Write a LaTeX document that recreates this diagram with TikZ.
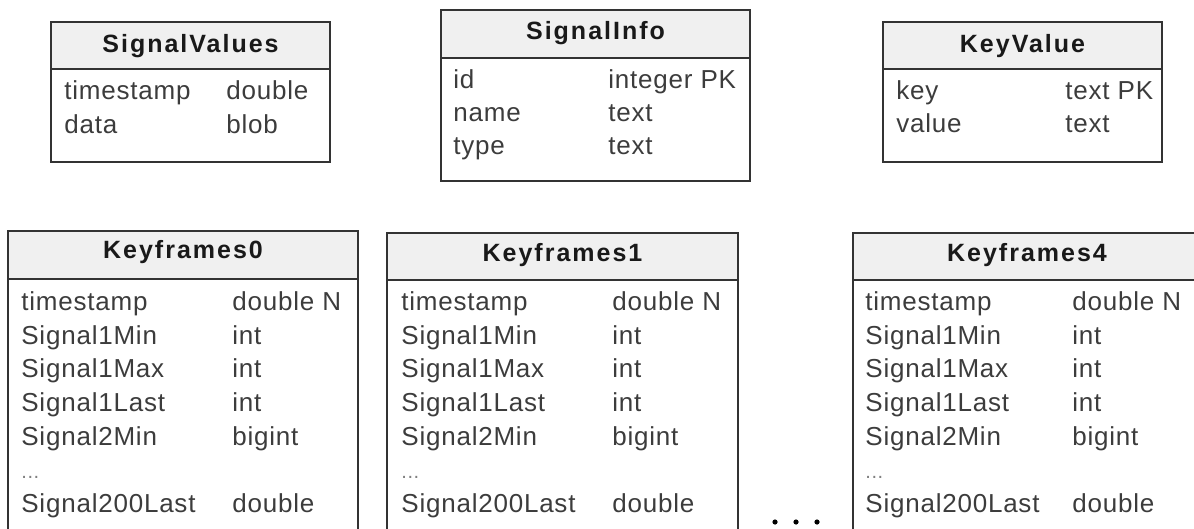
\documentclass[tikz,border=0pt]{standalone}
\usepackage{fontspec}
\usepackage{tikz}
\newfontfamily\tblfont[LetterSpace=3]{Liberation Sans}
\newfontfamily\hdrfont[LetterSpace=8]{Liberation Sans}
\newcommand\rowdots{{\color{gray}\fontsize{10pt}{12pt}\selectfont...}}
\definecolor{framegray}{HTML}{333333}
\definecolor{headgray}{HTML}{F0F0F0}
\definecolor{rowtext}{HTML}{3C3C3C}
\tikzset{
  tblframe/.style={draw=framegray, line width=1pt},
  tblhead/.style={font=\hdrfont\bfseries\fontsize{12.5pt}{14pt}\selectfont, text=black!90, anchor=base, inner sep=0pt},
  tblrow/.style={font=\tblfont\fontsize{13pt}{15pt}\selectfont, text=rowtext, anchor=base west, inner sep=0pt},
}

\begin{document}
\begin{tikzpicture}[x=0.5pt, y=-0.5pt]
  \useasboundingbox (0,0) rectangle (1194,529);
  \clip (0,0) rectangle (1194,529);

  % SignalValues
  \filldraw[tblframe, fill=headgray] (51,22) rectangle (330,69);
  \draw[tblframe] (51,69) rectangle (330,162);
  \node[tblhead] (sv-head) at (190.5,53) {SignalValues};
  \node[tblrow] (sv-name-1) at (64,100) {timestamp};
  \node[tblrow] (sv-type-1) at (226,100) {double};
  \node[tblrow] (sv-name-2) at (64,134) {data};
  \node[tblrow] (sv-type-2) at (226,134) {blob};

  % SignalInfo
  \filldraw[tblframe, fill=headgray] (441,10) rectangle (750,58);
  \draw[tblframe] (441,58) rectangle (750,181);
  \node[tblhead] (si-head) at (595.5,40) {SignalInfo};
  \node[tblrow] (si-name-1) at (453,89) {id};
  \node[tblrow] (si-type-1) at (608,89) {integer PK};
  \node[tblrow] (si-name-2) at (453,122) {name};
  \node[tblrow] (si-type-2) at (608,122) {text};
  \node[tblrow] (si-name-3) at (453,155) {type};
  \node[tblrow] (si-type-3) at (608,155) {text};

  % KeyValue
  \filldraw[tblframe, fill=headgray] (883,22) rectangle (1162,69);
  \draw[tblframe] (883,69) rectangle (1162,162);
  \node[tblhead] (kv-head) at (1022.5,53) {KeyValue};
  \node[tblrow] (kv-name-1) at (896,100) {key};
  \node[tblrow] (kv-type-1) at (1065,100) {text PK};
  \node[tblrow] (kv-name-2) at (896,133) {value};
  \node[tblrow] (kv-type-2) at (1065,133) {text};

  % Keyframes tables (cut off by the picture edge)
  \foreach \tbl/\lx/\rx/\tpy/\hb/\hy/\cx/\tx in
      {0/8/358/231/279/259/21/232, 1/387/738/233/280/262/401/612, 4/853/1201/233/280/262/865/1072} {
    \filldraw[tblframe, fill=headgray] (\lx,\tpy) rectangle (\rx,\hb);
    \draw[tblframe] (\lx,\hb) rectangle (\rx,560);
    \node[tblhead] (kf\tbl-head) at ({(\lx+\rx)/2},\hy) {Keyframes\tbl};
    \foreach \fname/\ftype [count=\i] in
        {timestamp/double N, Signal1Min/int, Signal1Max/int, Signal1Last/int,
         Signal2Min/bigint, \rowdots/{}, Signal200Last/double} {
      \node[tblrow] (kf\tbl-name-\i) at (\cx,{277.5+\i*33.5}) {\fname};
      \node[tblrow] (kf\tbl-type-\i) at (\tx,{277.5+\i*33.5}) {\ftype};
    }
  }

  % more tables
  \foreach \dx in {775,796,817}
    \fill[black] (\dx,522) circle (1.3pt);
\end{tikzpicture}
\end{document}
